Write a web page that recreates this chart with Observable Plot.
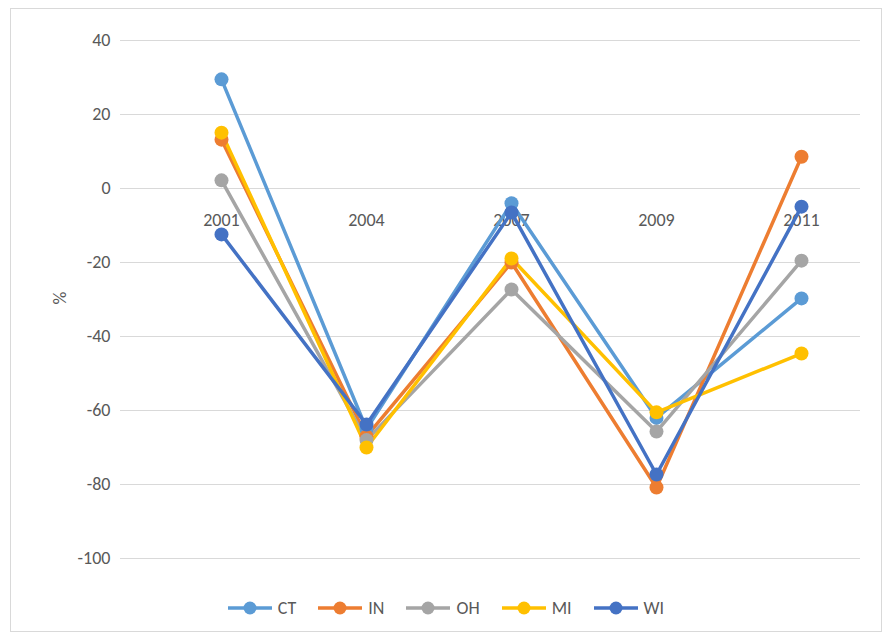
<!DOCTYPE html>
<html><head><meta charset="utf-8">
<script src="https://cdn.jsdelivr.net/npm/d3@7"></script>
<script src="https://cdn.jsdelivr.net/npm/@observablehq/plot@0.6"></script>
<style>
body{margin:0;background:#fff;font-family:Calibri,"Liberation Sans",Arial,sans-serif;}
#frame{position:absolute;left:10px;top:8px;width:870px;height:622px;border:1px solid #d9d9d9;}
#chart{position:absolute;left:0;top:0;}
#legend{position:absolute;top:597px;left:0;width:892px;display:flex;justify-content:center;gap:22px;font-size:18px;color:#595959;}
#legend span{display:flex;align-items:center;gap:6px;}
</style></head>
<body><div id="frame"></div><div id="chart"></div><div id="legend"></div>
<script>
const years = ["2001","2004","2007","2009","2011"];
const seriesNames = ["CT","IN","OH","MI","WI"];
const colors = ["#5B9BD5","#ED7D31","#A5A5A5","#FFC000","#4472C4"];
const CT = [29.5,-65,-4,-62,-29.7];
const IN = [13.2,-67,-20,-80.8,8.6];
const OH = [2.2,-68,-27.3,-65.7,-19.5];
const MI = [15.1,-70,-18.9,-60.5,-44.6];
const WI = [-12.4,-63.8,-6.5,-77.3,-4.9];
const yTicks = [40,20,0,-20,-40,-60,-80,-100];

const vals = {CT,IN,OH,MI,WI};
const data = seriesNames.flatMap(s => years.map((y,i) => ({series:s, year:y, value:vals[s][i]})));

const chart = Plot.plot({
  width:892, height:590,
  marginTop:40, marginBottom:32, marginLeft:120, marginRight:32,
  style:{fontFamily:"Calibri, 'Liberation Sans', Arial, sans-serif", fontSize:"18px", color:"#595959", background:"transparent"},
  x:{type:"point", domain:years, range:[220,802], padding:0, axis:null},
  y:{domain:[-100,40], ticks:yTicks, axis:null},
  color:{domain:seriesNames, range:colors},
  marks:[
    Plot.gridY(yTicks, {stroke:"#d9d9d9", strokeOpacity:1}),
    Plot.text(yTicks, {y:d=>d, text:d=>String(d), frameAnchor:"left", dx:-10, textAnchor:"end", fill:"#595959"}),
    Plot.text(years, {x:d=>d, y:()=>0, text:d=>d, dy:32, fill:"#595959"}),
    Plot.line(data, {x:"year", y:"value", stroke:"series", strokeWidth:3.5}),
    Plot.dot(data, {x:"year", y:"value", fill:"series", r:7})
  ]
});
d3.select("#chart").append(()=>chart);
const svg = d3.select(chart);
svg.append("text").attr("transform","translate(66,298) rotate(-90)").attr("text-anchor","middle")
  .attr("fill","#595959").attr("font-size",18).text("%");

const lg = d3.select("#legend");
seriesNames.forEach((s,i)=>{
  const sp = lg.append("span");
  sp.html(`<svg width="44" height="16"><line x1="0" y1="8" x2="44" y2="8" stroke="${colors[i]}" stroke-width="3.5"/><circle cx="22" cy="8" r="6.5" fill="${colors[i]}"/></svg>`);
  sp.append("text").text(s);
});
</script></body></html>
